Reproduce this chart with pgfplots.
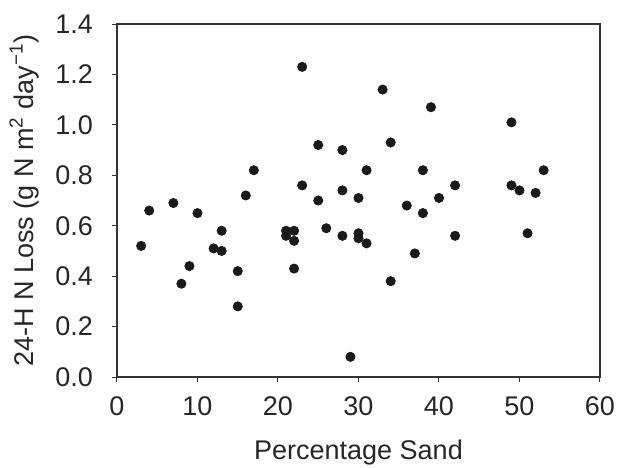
\documentclass[border=0pt]{standalone}
\usepackage{fontspec}
\setmainfont{Liberation Sans}
\usepackage{pgfplots}
\pgfplotsset{compat=1.18}
\definecolor{dotc}{HTML}{1A1A1A}
\definecolor{framec}{HTML}{333333}

\pgfplotstableread{
x y
3 0.52
4 0.66
7 0.69
8 0.37
9 0.44
10 0.65
12 0.51
13 0.58
13 0.50
15 0.42
15 0.28
16 0.72
17 0.82
21 0.58
21 0.56
22 0.58
22 0.54
22 0.43
23 1.23
23 0.76
25 0.92
25 0.70
26 0.59
28 0.90
28 0.74
28 0.56
29 0.08
30 0.71
30 0.57
30 0.55
31 0.82
31 0.53
33 1.14
34 0.93
34 0.38
36 0.68
37 0.49
38 0.82
38 0.65
39 1.07
40 0.71
42 0.76
42 0.56
49 1.01
49 0.76
50 0.74
51 0.57
52 0.73
53 0.82
}\sanddata

\begin{document}
\begin{tikzpicture}
\useasboundingbox (-58.5pt,-45pt) rectangle (250pt,188.5pt);
\begin{axis}[
  at={(0,0)}, anchor=south west,
  scale only axis,
  width=241.5pt, height=176.5pt,
  xmin=0, xmax=60, ymin=0, ymax=1.4,
  xtick={0,10,...,60},
  ytick={0,0.2,...,1.4},
  tick align=outside,
  xtick pos=bottom, ytick pos=left,
  major tick length=2.5pt,
  tick style={framec, line width=0.5pt},
  axis line style={framec, line width=0.6pt},
  /pgf/number format/assume math mode=true,
  yticklabel style={/pgf/number format/fixed, /pgf/number format/fixed zerofill,
    /pgf/number format/precision=1, xshift=-6pt},
  xticklabel style={/pgf/number format/fixed, yshift=-4pt},
  tick label style={font=\fontsize{13.5}{15}\selectfont, color=black!85},
  label style={font=\fontsize{13.5}{15}\selectfont, color=black!85},
  xlabel={Percentage Sand},
  ylabel={24-H N Loss (g N m\textsuperscript{2} day\textsuperscript{−1})},
  xlabel style={yshift=-5pt},
  ylabel style={yshift=1.5pt},
  scaled ticks=false,
]
\addplot[only marks, mark=*, mark size=2.3pt, mark options={fill=dotc, draw=dotc}] table[x=x, y=y] {\sanddata};
\end{axis}
\end{tikzpicture}
\end{document}
